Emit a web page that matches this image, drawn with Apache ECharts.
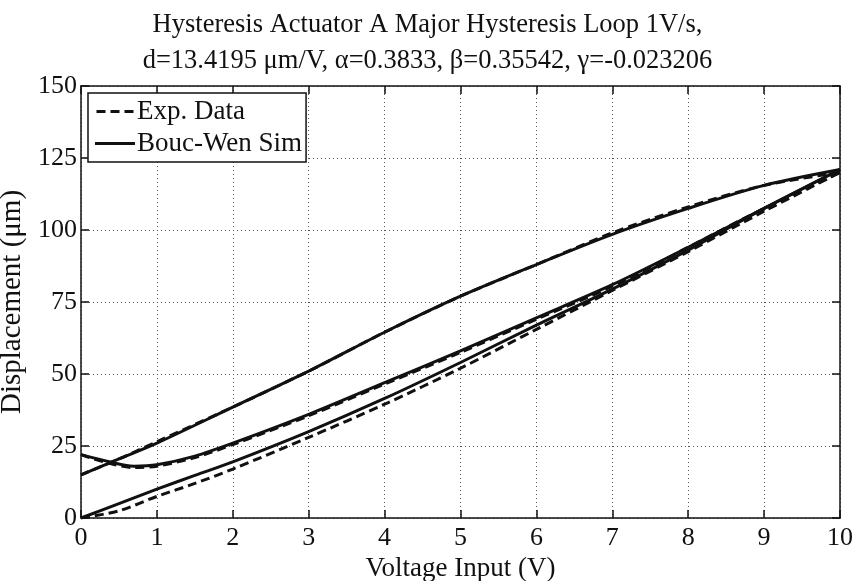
<!DOCTYPE html>
<html>
<head>
<meta charset="utf-8">
<script src="https://cdn.jsdelivr.net/npm/echarts@6/dist/echarts.min.js"></script>
<style>
html,body{margin:0;padding:0;background:#ffffff;}
#chart{width:855px;height:581px;}
</style>
</head>
<body>
<div id="chart"></div>
<script>
// ---- data ----
const xTicks = [0,1,2,3,4,5,6,7,8,9,10];
const yTicks = [0,25,50,75,100,125,150];

// initial ascending branch (from origin)
const vLower   = [0, 0.5, 1, 1.5, 2, 3, 4, 5, 6, 7, 8, 9, 10];
const expLower = [0, 2.5, 7.5, 12, 17, 28, 39.5, 52, 65.5, 79, 92.5, 106.5, 120];
const simLower = [0, 5, 10, 14.8, 19.5, 30, 41.5, 54, 67, 79.5, 93, 107.5, 121];

// descending branch (upper)
const vUpper   = [10, 9, 8, 7, 6, 5, 4, 3, 2, 1, 0.5, 0];
const expUpper = [120, 115.5, 108, 99, 88, 77, 64.5, 51, 38.5, 26.5, 20.5, 15];
const simUpper = [121, 115.5, 107.5, 98.5, 88, 77, 64.5, 51, 38.5, 26, 20.5, 15];

// second ascending branch (middle)
const vMid   = [0, 0.3, 0.7, 1, 1.5, 2, 3, 4, 5, 6, 7, 8, 9, 10];
const expMid = [22, 19.5, 17.5, 18, 21, 25.5, 35.5, 46.5, 57.5, 69, 80.5, 94, 107.5, 120];
const simMid = [22, 20, 18, 18.5, 21.5, 26, 36, 47, 58, 69.5, 81, 94, 107.5, 121];

const titleLine1 = 'Hysteresis Actuator A Major Hysteresis Loop 1V/s,';
const titleLine2 = 'd=13.4195 \u03BCm/V, \u03B1=0.3833, \u03B2=0.35542, \u03B3=-0.023206';

// ---- build ----
const FONT = 'Liberation Serif';
const zip = (xs, ys) => xs.map((x, i) => [x, ys[i]]);

function mkSeries(name, xs, ys, dashed) {
  return {
    name: name, type: 'line', data: zip(xs, ys),
    smooth: 0.3, symbol: 'none', showSymbol: false, xAxisIndex: 0, yAxisIndex: 0,
    lineStyle: { color: '#111', width: 3, type: dashed ? [9, 5] : 'solid' },
    itemStyle: { color: '#111' }, z: dashed ? 3 : 4
  };
}

const dashIcon  = 'path://M0,0h9v3h-9z M14,0h9v3h-9z M28,0h9v3h-9z';
const solidIcon = 'path://M0,0h40v3h-40z';

const chart = echarts.init(document.getElementById('chart'), null, { renderer: 'canvas' });
chart.setOption({
  backgroundColor: '#ffffff',
  animation: false,
  textStyle: { fontFamily: FONT, color: '#111' },
  title: [
    { text: titleLine1, left: 'center', top: 7,
      textStyle: { fontFamily: FONT, fontSize: 26.5, fontWeight: 'normal', color: '#111' } },
    { text: titleLine2, left: 'center', top: 43,
      textStyle: { fontFamily: FONT, fontSize: 26.5, fontWeight: 'normal', color: '#111' } }
  ],
  legend: {
    data: [
      { name: 'Exp. Data', icon: dashIcon },
      { name: 'Bouc-Wen Sim', icon: solidIcon }
    ],
    orient: 'vertical', left: 88, top: 93,
    backgroundColor: '#fff', borderColor: '#111', borderWidth: 1.5,
    padding: [5, 4, 5, 7], itemGap: 5, itemWidth: 40, itemHeight: 3,
    itemStyle: { color: '#111', borderWidth: 0 },
    textStyle: { fontFamily: FONT, fontSize: 27, color: '#111', padding: [0, 0, 0, -3] }
  },
  grid: { left: 81, right: 15, top: 86, bottom: 63, containLabel: false, outerBoundsMode: 'none' },
  xAxis: [
    { type: 'value', min: 0, max: 10, interval: 1, position: 'bottom',
      name: 'Voltage Input (V)', nameLocation: 'middle', nameGap: 35,
      nameTextStyle: { fontFamily: FONT, fontSize: 27, color: '#111' },
      axisLine: { show: true, lineStyle: { color: '#111', width: 1.5 } },
      axisTick: { show: true, inside: true, length: 8, lineStyle: { color: '#111', width: 1.5 } },
      axisLabel: { fontFamily: FONT, fontSize: 26, color: '#111', margin: 7,
        formatter: v => xTicks.indexOf(v) >= 0 ? String(v) : '' },
      splitLine: { show: true, lineStyle: { color: '#555', width: 1, type: [1, 3] } } },
    { type: 'value', min: 0, max: 10, interval: 1, position: 'top',
      axisLine: { show: true, onZero: false, lineStyle: { color: '#111', width: 1.5 } },
      axisTick: { show: true, inside: true, length: 8, lineStyle: { color: '#111', width: 1.5 } },
      axisLabel: { show: false }, splitLine: { show: false } }
  ],
  yAxis: [
    { type: 'value', min: 0, max: 150, interval: 25, position: 'left',
      name: 'Displacement (\u03BCm)', nameLocation: 'middle', nameGap: 46, nameRotate: 90,
      nameTextStyle: { fontFamily: FONT, fontSize: 29, color: '#111' },
      axisLine: { show: true, lineStyle: { color: '#111', width: 1.5 } },
      axisTick: { show: true, inside: true, length: 8, lineStyle: { color: '#111', width: 1.5 } },
      axisLabel: { fontFamily: FONT, fontSize: 26, color: '#111', margin: 4,
        formatter: v => yTicks.indexOf(v) >= 0 ? String(v) : '' },
      splitLine: { show: true, lineStyle: { color: '#555', width: 1, type: [1, 3] } } },
    { type: 'value', min: 0, max: 150, interval: 25, position: 'right',
      axisLine: { show: true, onZero: false, lineStyle: { color: '#111', width: 1.5 } },
      axisTick: { show: true, inside: true, length: 8, lineStyle: { color: '#111', width: 1.5 } },
      axisLabel: { show: false }, splitLine: { show: false } }
  ],
  series: [
    mkSeries('Exp. Data', vLower, expLower, true),
    mkSeries('Exp. Data', vUpper, expUpper, true),
    mkSeries('Exp. Data', vMid, expMid, true),
    mkSeries('Bouc-Wen Sim', vLower, simLower, false),
    mkSeries('Bouc-Wen Sim', vUpper, simUpper, false),
    mkSeries('Bouc-Wen Sim', vMid, simMid, false)
  ]
});
</script>
</body>
</html>
